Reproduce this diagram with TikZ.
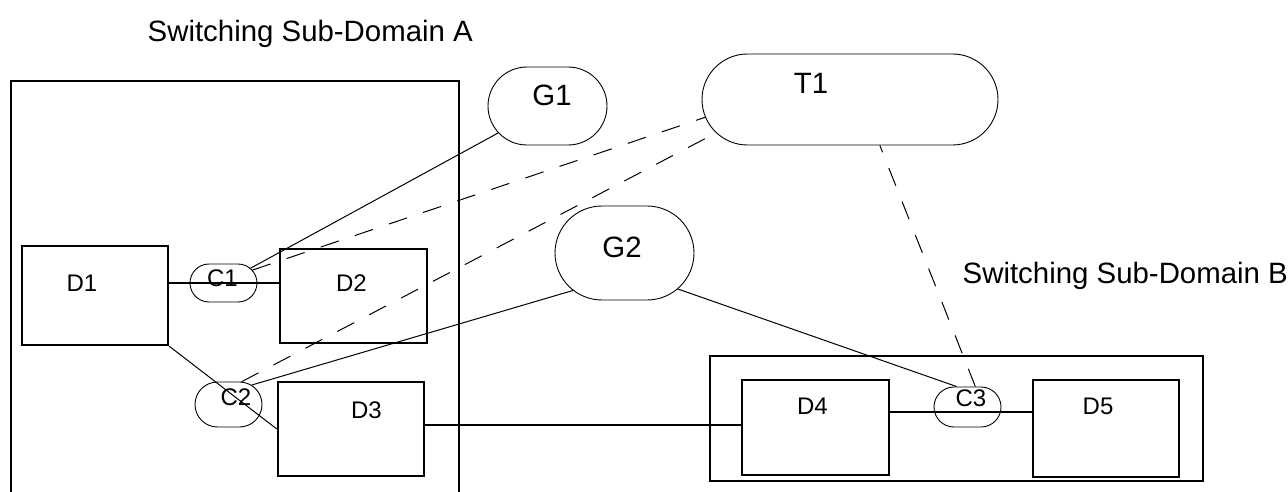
\documentclass[tikz,border=0pt]{standalone}
\usepackage{fontspec}
\setmainfont{Liberation Sans}
\usepackage{tikz}
\usetikzlibrary{shapes.misc}

\begin{document}
\begin{tikzpicture}[ x=1pt, y=-1pt,
     small/.style={font=\fontsize{24}{28}\selectfont},
     big/.style={font=\fontsize{29.4}{34}\selectfont},
     dev/.style={draw, line width=2.4pt, inner sep=0pt},
     oval/.style={draw, rounded rectangle, line width=0.9pt, inner sep=0pt},
     area/.style={line width=2.4pt},
     link/.style={line width=1pt},
     data/.style={line width=1.8pt},
     tie/.style={line width=1pt, dash pattern=on 19pt off 17pt} ]

\useasboundingbox (0,0) rectangle (1288,492);

%Domains
\draw[area] (11,492) -- (11,81) -- (459,81) -- (459,492);
\draw[area] (710,356) rectangle (1203,481);
\node[big, anchor=base west, inner sep=0pt] (titleA) at (147.5,42) {Switching Sub-Domain A};
\node[big, anchor=base west, inner sep=0pt] (titleB) at (962.5,283) {Switching Sub-Domain B};

%Devices
\node[dev, minimum width=146pt, minimum height=99pt,
      label={[small,inner sep=0pt,xshift=-13pt,yshift=12pt]center:D1}] (D1) at (95,295.5) {};
\node[dev, minimum width=147pt, minimum height=94pt,
      label={[small,inner sep=0pt,xshift=-2pt,yshift=12.5pt]center:D2}] (D2) at (353.5,296) {};
\node[dev, minimum width=146pt, minimum height=94pt,
      label={[small,inner sep=0pt,xshift=15.5pt,yshift=18.5pt]center:D3}] (D3) at (351,429) {};
\node[dev, minimum width=147pt, minimum height=95pt,
      label={[small,inner sep=0pt,xshift=-3pt,yshift=21.5pt]center:D4}] (D4) at (815.5,427.5) {};
\node[dev, minimum width=146pt, minimum height=97pt,
      label={[small,inner sep=0pt,xshift=-8pt,yshift=22pt]center:D5}] (D5) at (1106,428.5) {};

%Connection points
\node[oval, minimum width=67pt, minimum height=38pt,
      label={[small,inner sep=0pt,xshift=-1pt,yshift=4.5pt]center:C1}] (C1) at (223.5,283) {};
\node[oval, minimum width=67pt, minimum height=45pt,
      label={[small,inner sep=0pt,xshift=7.5pt,yshift=7pt]center:C2}] (C2) at (228.5,404.5) {};
\node[oval, minimum width=67pt, minimum height=40pt,
      label={[small,inner sep=0pt,xshift=3.5pt,yshift=8.5pt]center:C3}] (C3) at (967.5,407) {};

%Controllers
\node[oval, minimum width=119pt, minimum height=78pt,
      label={[big,inner sep=0pt,xshift=4.5pt,yshift=11pt]center:G1}] (G1) at (547.5,106) {};
\node[oval, minimum width=139pt, minimum height=94pt,
      label={[big,inner sep=0pt,xshift=-2.5pt,yshift=5.5pt]center:G2}] (G2) at (624.5,253) {};
\node[oval, minimum width=296pt, minimum height=91pt,
      label={[big,inner sep=0pt,xshift=-39pt,yshift=16.5pt]center:T1}] (T1) at (850,99.5) {};

%Data links
\coordinate (L34) at (600,425);
\coordinate (L45) at (967,412);
\draw[data] (C1 -| D1.east) -- (C1 -| D2.west);
\draw[link] (D1.south east) -- (D3.west);
\draw[data] (L34 -| D3.east) -- (L34 -| D4.west);
\draw[data] (L45 -| D4.east) -- (L45 -| D5.west);

%Control links
\draw[link] (C1) -- (G1);
\draw[link] (C2.40) -- (G2.216);
\draw[link] (C3.118) -- (G2.-34);
\draw[tie] (C1.24) -- (T1.187);
\draw[tie] (C2.60) -- (T1.194);
\draw[tie] (C3.69) -- (T1.-57);

\end{tikzpicture}
\end{document}
